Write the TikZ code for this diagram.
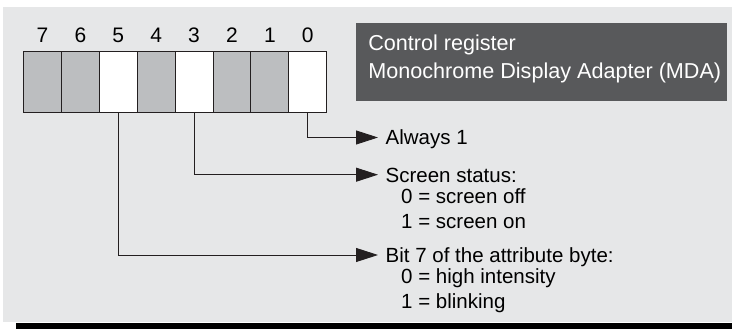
\documentclass[tikz,border=0pt]{standalone}
\usepackage{fontspec}
\setmainfont{Liberation Sans}
\usetikzlibrary{arrows.meta,positioning}
\definecolor{panelgray}{HTML}{E6E7E8}
\definecolor{bitgray}{HTML}{BCBEC0}
\definecolor{titlegray}{HTML}{58595B}
\definecolor{linegray}{HTML}{231F20}

\begin{document}
\begin{tikzpicture}[x=1pt, y=1pt,
  cell/.style={draw=linegray, line width=0.9pt, minimum width=37.9pt, minimum height=60.3pt, inner sep=0pt},
  digit/.style={font=\fontsize{21}{25}\selectfont, inner sep=0pt, text height=15pt, text depth=0pt},
  head/.style={font=\fontsize{20.5}{25}\selectfont, inner xsep=7.5pt, inner ysep=0pt, text height=15pt, text depth=0pt, anchor=west},
  val/.style={font=\fontsize{20.5}{25}\selectfont, inner sep=0pt},
  ttl/.style={font=\fontsize{21.6}{25}\selectfont, text=white, inner sep=0pt},
  conn/.style={draw=linegray, line width=0.9pt, -{Triangle[length=22pt, width=14pt]}}]
\useasboundingbox (0,0) rectangle (732,329);
\fill[panelgray] (3,7) rectangle (732,322);
\fill[black] (16,0) rectangle (732,6);
% register bits 7..0
\foreach \b/\f in {7/bitgray,6/bitgray,5/white,4/bitgray,3/white,2/bitgray,1/bitgray,0/white} {
  \node[cell, fill=\f] (b\b) at ({42.45+(7-\b)*37.9}, 247.15) {};
  \node[digit, above=8.4pt of b\b] (d\b) {\b};
}
% title box
\node[fill=titlegray, minimum width=370.7pt, minimum height=77.7pt, inner sep=0pt] (mda) at (541.35, 267.15) {};
\node[ttl, anchor=base west] (mda1) at ([xshift=12.3pt, yshift=-27.7pt]mda.north west) {Control register};
\node[ttl, below=27.6pt of mda1.base west, anchor=base west] (mda2) {Monochrome Display Adapter (MDA)};
% labels
\node[head] (always) at (378, 191.5) {Always 1};
\node[head] (status) at (378, 154.3) {Screen status:};
\node[val, below=21.3pt of status.base west, anchor=base west, xshift=23pt] (status0) {0 = screen off};
\node[val, below=25.2pt of status0.base west, anchor=base west] (status1) {1 = screen on};
\node[head] (attr) at (378, 74) {Bit 7 of the attribute byte:};
\node[val, below=21pt of attr.base west, anchor=base west, xshift=23pt] (attr0) {0 = high intensity};
\node[val, below=25pt of attr0.base west, anchor=base west] (attr1) {1 = blinking};
% connectors
\draw[conn] (b0.south) |- (always.west);
\draw[conn] (b3.south) |- (status.west);
\draw[conn] (b5.south) |- (attr.west);
\end{tikzpicture}
\end{document}
